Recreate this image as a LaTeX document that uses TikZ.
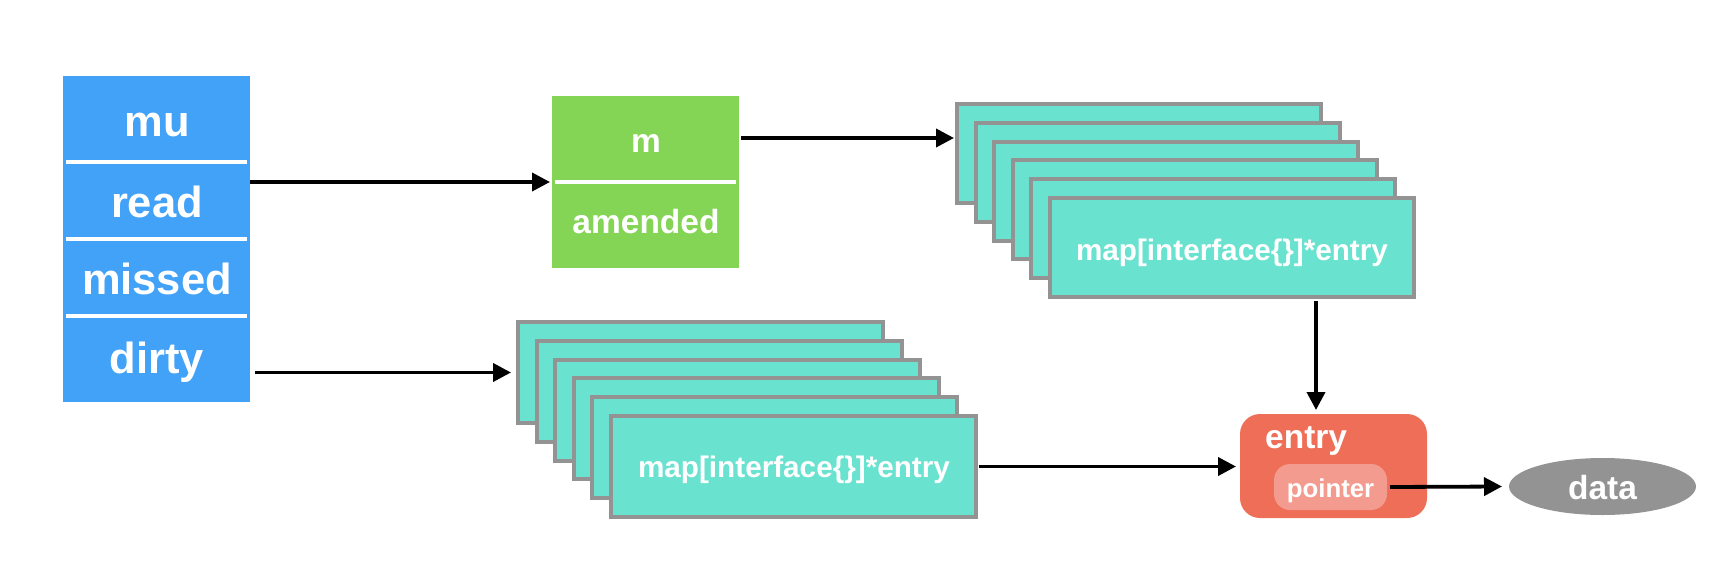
\documentclass[tikz,border=0pt]{standalone}
\usepackage{fontspec}
\setmainfont{Liberation Sans}
\usetikzlibrary{arrows.meta,shapes.geometric}
\definecolor{cblue}{HTML}{42A2F7}
\definecolor{cgreen}{HTML}{84D555}
\definecolor{cteal}{HTML}{69E2CF}
\definecolor{cgray}{HTML}{939393}
\definecolor{cred}{HTML}{EE6E58}
\definecolor{cpink}{HTML}{F39B8E}
\tikzset{
  fillbox/.style={draw=none, inner sep=0pt, outer sep=0pt},
  stk/.style={draw=cgray, line width=4pt, fill=cteal, inner sep=0pt, outer sep=0pt,
    minimum width=364pt, minimum height=99pt},
  stkb/.style={stk, minimum width=365pt, minimum height=101pt},
  sep/.style={draw=white, line width=4pt},
  lblbig/.style={text=white, inner sep=0pt, anchor=base, font=\fontsize{43.5}{50}\selectfont\bfseries},
  lblmid/.style={text=white, inner sep=0pt, anchor=base, font=\fontsize{33.5}{40}\selectfont\bfseries},
  lblmap/.style={text=white, inner sep=0pt, anchor=base, font=\fontsize{29.7}{36}\selectfont\bfseries},
  lblsmall/.style={text=white, inner sep=0pt, anchor=base, font=\fontsize{25.8}{30}\selectfont\bfseries},
  arr/.style={-{Triangle[length=18pt,width=18pt]}, line width=3.8pt, draw=black},
}
\begin{document}
\begin{tikzpicture}[x=1pt,y=-1pt]
\useasboundingbox (0,0) rectangle (1732,568);

% blue struct
\node[fillbox, fill=cblue, minimum width=187pt, minimum height=326pt] (S) at (156.5,239) {};
\draw[sep] (66,162) -- (247,162);
\draw[sep] (66,239) -- (247,239);
\draw[sep] (66,316) -- (247,316);
\node[lblbig] (mu) at (157,136) {mu};
\node[lblbig] (read) at (157,217) {read};
\node[lblbig] (missed) at (157,294) {missed};
\node[lblbig] (dirty) at (157,373) {dirty};

% green readOnly
\node[fillbox, fill=cgreen, minimum width=187pt, minimum height=172pt] (G) at (645.5,182) {};
\draw[sep] (555,182) -- (736,182);
\node[lblmid] (m) at (646,152) {m};
\node[lblmid] (amended) at (646,233) {amended};

% top stack of maps
\foreach \i in {0,...,5} {
  \node[stk] (T\i) at ({1139+18.6*\i},{153.5+18.8*\i}) {};
}
\node[lblmap] (tmap) at (1232,260) {map[interface\{\}]*entry};

% bottom stack of maps
\foreach \i in {0,...,5} {
  \node[stkb] (B\i) at ({700.5+18.6*\i},{372.5+18.8*\i}) {};
}
\node[lblmap] (bmap) at (794,477) {map[interface\{\}]*entry};

% entry
\node[fillbox, fill=cred, rounded corners=20pt, minimum width=187pt, minimum height=104pt] (E) at (1333.5,466) {};
\node[lblmid, anchor=base west] (etext) at (1265,448) {entry};
\node[fillbox, fill=cpink, rounded corners=16pt, minimum width=113pt, minimum height=46pt] (P) at (1330.5,487) {};
\node[lblsmall] (ptext) at (1330.5,497) {pointer};

% data
\node[fillbox, fill=cgray, ellipse, minimum width=187pt, minimum height=57pt] (D) at (1602.5,486.5) {};
\node[lblmid] (dtext) at (1602.5,499) {data};

% connectors
\draw[arr] (S.east |- G.west) -- ([xshift=-2pt]G.west);
\coordinate (a1) at (741,138);
\draw[arr] (a1) -- ([xshift=-3pt]T0.west |- a1);
\draw[arr] ([xshift=5pt]S.east |- B0.west) -- ([xshift=-7pt]B0.west);
\draw[arr] ([xshift=3pt]B5.east) -- ([xshift=-4pt]E.west |- B5.east);
\coordinate (c1) at (1316,300);
\draw[arr] ([yshift=-4pt]T5.south -| c1) -- ([yshift=4pt]E.north -| c1);
\draw[arr] ([xshift=3pt]P.east) -- ([xshift=-7pt]D.west);
\end{tikzpicture}
\end{document}
